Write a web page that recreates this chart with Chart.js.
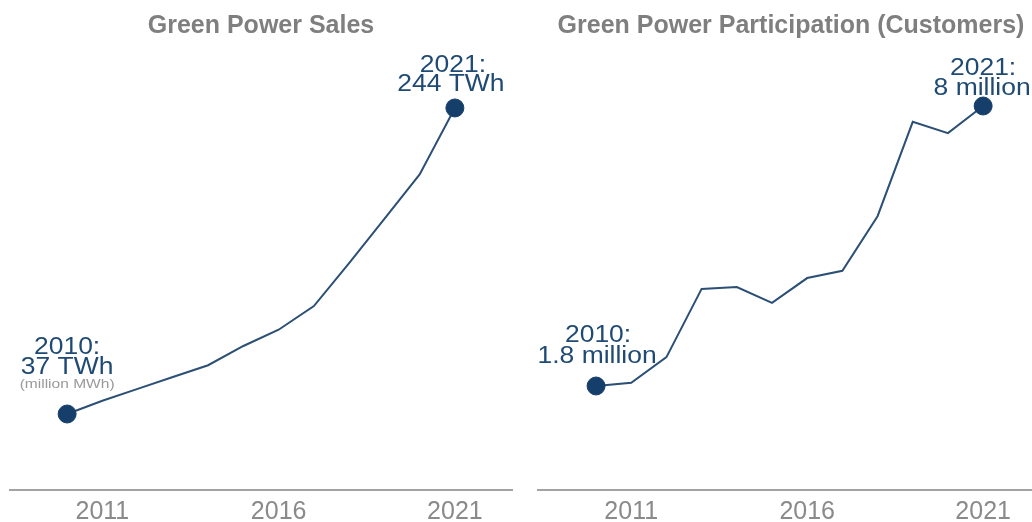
<!DOCTYPE html>
<html>
<head>
<meta charset="utf-8">
<script src="https://cdn.jsdelivr.net/npm/chart.js@4.4.0/dist/chart.umd.min.js"></script>
<style>
  html, body { margin: 0; padding: 0; background: #fff; overflow: hidden; }
  #wrap { position: relative; width: 1032px; height: 522px; overflow: hidden; }
  #salesChart { position: absolute; left: 0; top: 0; }
  #custChart { position: absolute; left: 520px; top: 0; }
</style>
</head>
<body>
<div id="wrap">
  <canvas id="salesChart" width="520" height="522"></canvas>
  <canvas id="custChart" width="524" height="522"></canvas>
</div>
<script>
// Data
const years = [2010, 2011, 2012, 2013, 2014, 2015, 2016, 2017, 2018, 2019, 2020, 2021];
const tickYears = [2011, 2016, 2021];
const salesTWh = [37, 46, 54, 62, 70, 83, 94, 110, 139, 169, 199, 244];
const customersMillion = [1.8, 1.87, 2.44, 3.95, 3.99, 3.64, 4.19, 4.35, 5.56, 7.65, 7.4, 8.0];

// Text labels
const salesTitle = 'Green Power Sales';
const custTitle = 'Green Power Participation (Customers)';
const salesStartLabel = ['2010:', '37 TWh'];
const salesUnitNote = '(million MWh)';
const salesEndLabel = ['2021:', '244 TWh'];
const custStartLabel = ['2010:', '1.8 million'];
const custEndLabel = ['2021:', '8 million'];

const FONT = '"Liberation Sans", Arial, Helvetica, sans-serif';
const LINE_COLOR = '#2b4f75';
const POINT_COLOR = '#153f6a';
const LABEL_COLOR = '#1f4a73';
const NOTE_COLOR = '#9a9a9a';
const STRETCH = 1.15; // annotation text in the picture is drawn a bit wide

// draws the start / end annotations next to the big dots
function makeEndLabels(items) {
    return {
        id: 'endLabels',
        afterDatasetsDraw(chart) {
            const meta = chart.getDatasetMeta(0);
            const ctx = chart.ctx;
            items.forEach(item => {
                const pt = meta.data[item.index];
                item.lines.forEach(ln => {
                    ctx.save();
                    ctx.translate(pt.x + (ln.dx || 0), pt.y + ln.dy);
                    ctx.scale(STRETCH, 1);
                    ctx.font = ln.font;
                    ctx.fillStyle = ln.color;
                    ctx.textAlign = 'center';
                    ctx.textBaseline = 'alphabetic';
                    ctx.fillText(ln.text, 0, 0);
                    ctx.restore();
                });
            });
        }
    };
}

function buildChart(canvasId, title, values, yRange, xRange, padding, labelItems) {
    const last = values.length - 1;
    const ctx = document.getElementById(canvasId).getContext('2d');
    return new Chart(ctx, {
        type: 'line',
        data: {
            datasets: [{
                data: years.map((yr, i) => ({ x: yr, y: values[i] })),
                borderColor: LINE_COLOR,
                borderWidth: 2,
                tension: 0,
                pointRadius: c => (c.dataIndex === 0 || c.dataIndex === last) ? 9 : 0,
                pointBackgroundColor: POINT_COLOR,
                pointBorderColor: POINT_COLOR,
                pointBorderWidth: 1
            }]
        },
        options: {
            responsive: false,
            animation: false,
            devicePixelRatio: 1,
            layout: { padding: padding, autoPadding: false },
            plugins: {
                legend: { display: false },
                tooltip: { enabled: false },
                title: {
                    display: true,
                    text: title,
                    color: '#7f7f7f',
                    font: { family: FONT, size: 25, weight: 'bold', lineHeight: 1.2 },
                    padding: { top: 11, bottom: 9 }
                }
            },
            scales: {
                x: {
                    type: 'linear',
                    min: xRange[0],
                    max: xRange[1],
                    grid: { display: false, drawTicks: false },
                    border: { display: true, color: '#a3a3a3', width: 2 },
                    ticks: {
                        color: '#8a8a8a',
                        font: { family: FONT, size: 25 },
                        padding: 7,
                        maxRotation: 0,
                        autoSkip: false,
                        callback: v => String(v)
                    },
                    afterBuildTicks: s => { s.ticks = tickYears.map(v => ({ value: v })); },
                    afterFit: s => { s.height = 32; }
                },
                y: { display: false, min: yRange[0], max: yRange[1] }
            }
        },
        plugins: [makeEndLabels(labelItems)]
    });
}

const bigFont = '23px ' + FONT;
const noteFont = '13.5px ' + FONT;

buildChart('salesChart', salesTitle, salesTWh, [-14.4, 283.2], [2008.38, 2022.62],
    { left: 10, right: 8, top: 0, bottom: 0 },
    [
        { index: 0, lines: [
            { text: salesStartLabel[0], dy: -60, font: bigFont, color: LABEL_COLOR },
            { text: salesStartLabel[1], dy: -40, font: bigFont, color: LABEL_COLOR },
            { text: salesUnitNote, dy: -26, font: noteFont, color: NOTE_COLOR }
        ] },
        { index: salesTWh.length - 1, lines: [
            { text: salesEndLabel[0], dx: -2, dy: -36, font: bigFont, color: LABEL_COLOR },
            { text: salesEndLabel[1], dx: -4, dy: -17, font: bigFont, color: LABEL_COLOR }
        ] }
    ]);

buildChart('custChart', custTitle, customersMillion, [-0.503, 9.24], [2008.35, 2022.73],
    { left: 18, right: 0, top: 0, bottom: 0 },
    [
        { index: 0, lines: [
            { text: custStartLabel[0], dx: 2, dy: -44, font: bigFont, color: LABEL_COLOR },
            { text: custStartLabel[1], dx: 1, dy: -23, font: bigFont, color: LABEL_COLOR }
        ] },
        { index: customersMillion.length - 1, lines: [
            { text: custEndLabel[0], dy: -31, font: bigFont, color: LABEL_COLOR },
            { text: custEndLabel[1], dx: -1, dy: -11, font: bigFont, color: LABEL_COLOR }
        ] }
    ]);
</script>
</body>
</html>
